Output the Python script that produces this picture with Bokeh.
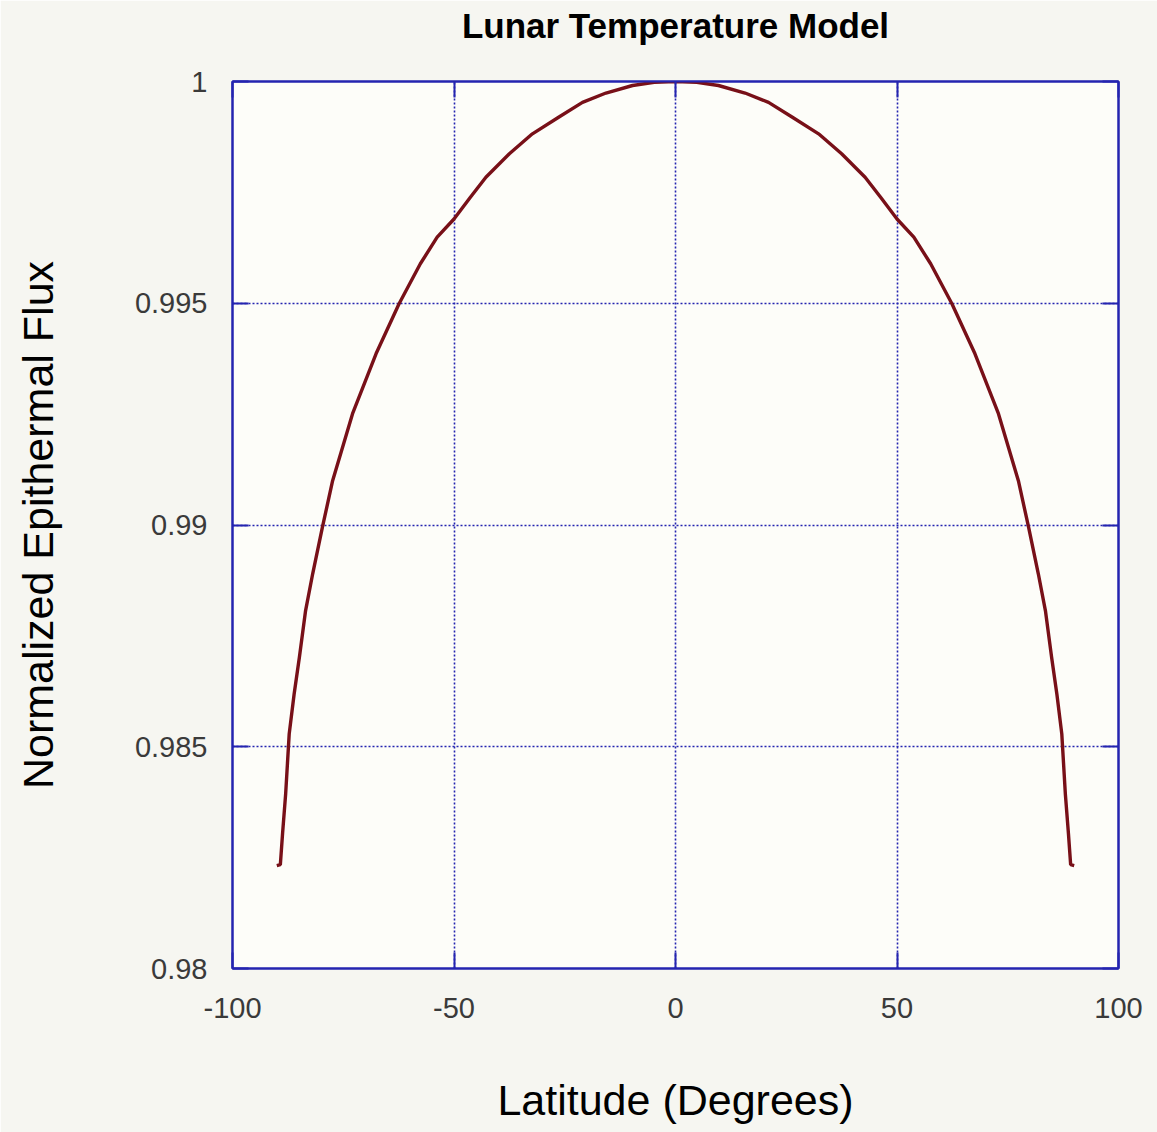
from bokeh.plotting import figure
from bokeh.models import Range1d, LinearAxis, FixedTicker, CustomJSTickFormatter
from bokeh.embed import file_html
from bokeh.resources import INLINE

# ---- data ----
latitude = [-90.0, -89.2, -88.7, -88.0, -87.2, -86.1, -84.9, -83.5, -81.9, -79.7,
            -77.4, -72.9, -67.6, -62.4, -57.6, -53.8, -50.0, -46.3, -42.8, -37.5,
            -32.3, -26.3, -21.0, -15.7, -9.7, -4.8, 0.0, 4.8, 9.7, 15.7, 21.0, 26.3,
            32.3, 37.5, 42.8, 46.3, 50.0, 53.8, 57.6, 62.4, 67.6, 72.9,
            77.4, 79.7, 81.9, 83.5, 84.9, 86.1, 87.2, 88.0, 88.7, 89.2, 90.0]
flux = [0.98232, 0.98234, 0.98304, 0.98394, 0.98529, 0.98618, 0.98702, 0.98807, 0.98890, 0.98995,
        0.99100, 0.99251, 0.99386, 0.99499, 0.99589, 0.99649, 0.99690, 0.99739, 0.99784, 0.99837,
        0.99882, 0.99920, 0.99953, 0.99974, 0.99991, 0.99998, 1.00000, 0.99998, 0.99991, 0.99974, 0.99953, 0.99920,
        0.99882, 0.99837, 0.99784, 0.99739, 0.99690, 0.99649, 0.99589, 0.99499, 0.99386, 0.99251,
        0.99100, 0.98995, 0.98890, 0.98807, 0.98702, 0.98618, 0.98529, 0.98394, 0.98304, 0.98234, 0.98232]

x_ticks = [-100, -50, 0, 50, 100]
x_tick_labels = ["-100", "-50", "0", "50", "100"]
y_ticks = [0.98, 0.985, 0.99, 0.995, 1.0]
y_tick_labels = ["0.98", "0.985", "0.99", "0.995", "1"]

title_text = "Lunar Temperature Model"
x_label = "Latitude (Degrees)"
y_label = "Normalized Epithermal Flux"

BLUE = "#2424b0"
CURVE = "#781018"
FONT = "Liberation Sans"

p = figure(width=1157, height=1132,
           x_range=Range1d(-100, 100), y_range=Range1d(0.98, 1.0),
           output_backend="svg", toolbar_location=None,
           min_border_left=232, min_border_right=39,
           min_border_top=81, min_border_bottom=164,
           background_fill_color="#fdfdf9", border_fill_color="#f6f6f1",
           outline_line_color=BLUE, outline_line_width=2)

p.line(latitude, flux, line_color=CURVE, line_width=3.4)

def style_axis(ax, show_labels=True):
    ax.major_tick_in = 16
    ax.major_tick_out = 0
    ax.minor_tick_line_color = None
    ax.major_tick_line_color = BLUE
    ax.major_tick_line_width = 2
    ax.axis_line_color = BLUE
    ax.axis_line_width = 2
    ax.major_label_text_font = FONT
    ax.major_label_text_font_size = "29px"
    ax.major_label_text_color = "#3a3a3a"
    ax.axis_label_text_font = FONT
    ax.axis_label_text_font_size = "43px"
    ax.axis_label_text_font_style = "normal"
    ax.axis_label_text_color = "#000000"
    if not show_labels:
        ax.major_label_text_font_size = "0px"
        ax.major_label_standoff = 0
        ax.formatter = CustomJSTickFormatter(code="return ''")

xa = p.xaxis[0]
xa.ticker = FixedTicker(ticks=x_ticks)
xa.major_label_overrides = dict(zip(x_ticks, x_tick_labels))
xa.axis_label = x_label
xa.major_label_standoff = 29
xa.axis_label_standoff = 55
style_axis(xa)

ya = p.yaxis[0]
ya.ticker = FixedTicker(ticks=y_ticks)
ya.major_label_overrides = dict(zip(y_ticks, y_tick_labels))
ya.axis_label = y_label
ya.major_label_standoff = 25
ya.axis_label_standoff = 70
style_axis(ya)

# top axis: inside ticks only; its axis label carries the chart title
top = LinearAxis(ticker=FixedTicker(ticks=x_ticks))
style_axis(top, show_labels=False)
top.axis_label = title_text
top.axis_label_text_font_size = "35px"
top.axis_label_text_font_style = "bold"
top.axis_label_standoff = 37
p.add_layout(top, "above")

right = LinearAxis(ticker=FixedTicker(ticks=y_ticks))
style_axis(right, show_labels=False)
p.add_layout(right, "right")

for g, t in ((p.xgrid[0], x_ticks), (p.ygrid[0], y_ticks)):
    g.ticker = FixedTicker(ticks=t)
    g.grid_line_color = BLUE
    g.grid_line_dash = "2 2"
    g.grid_line_width = 1.6

open("out.html", "w").write(file_html(p, INLINE))
